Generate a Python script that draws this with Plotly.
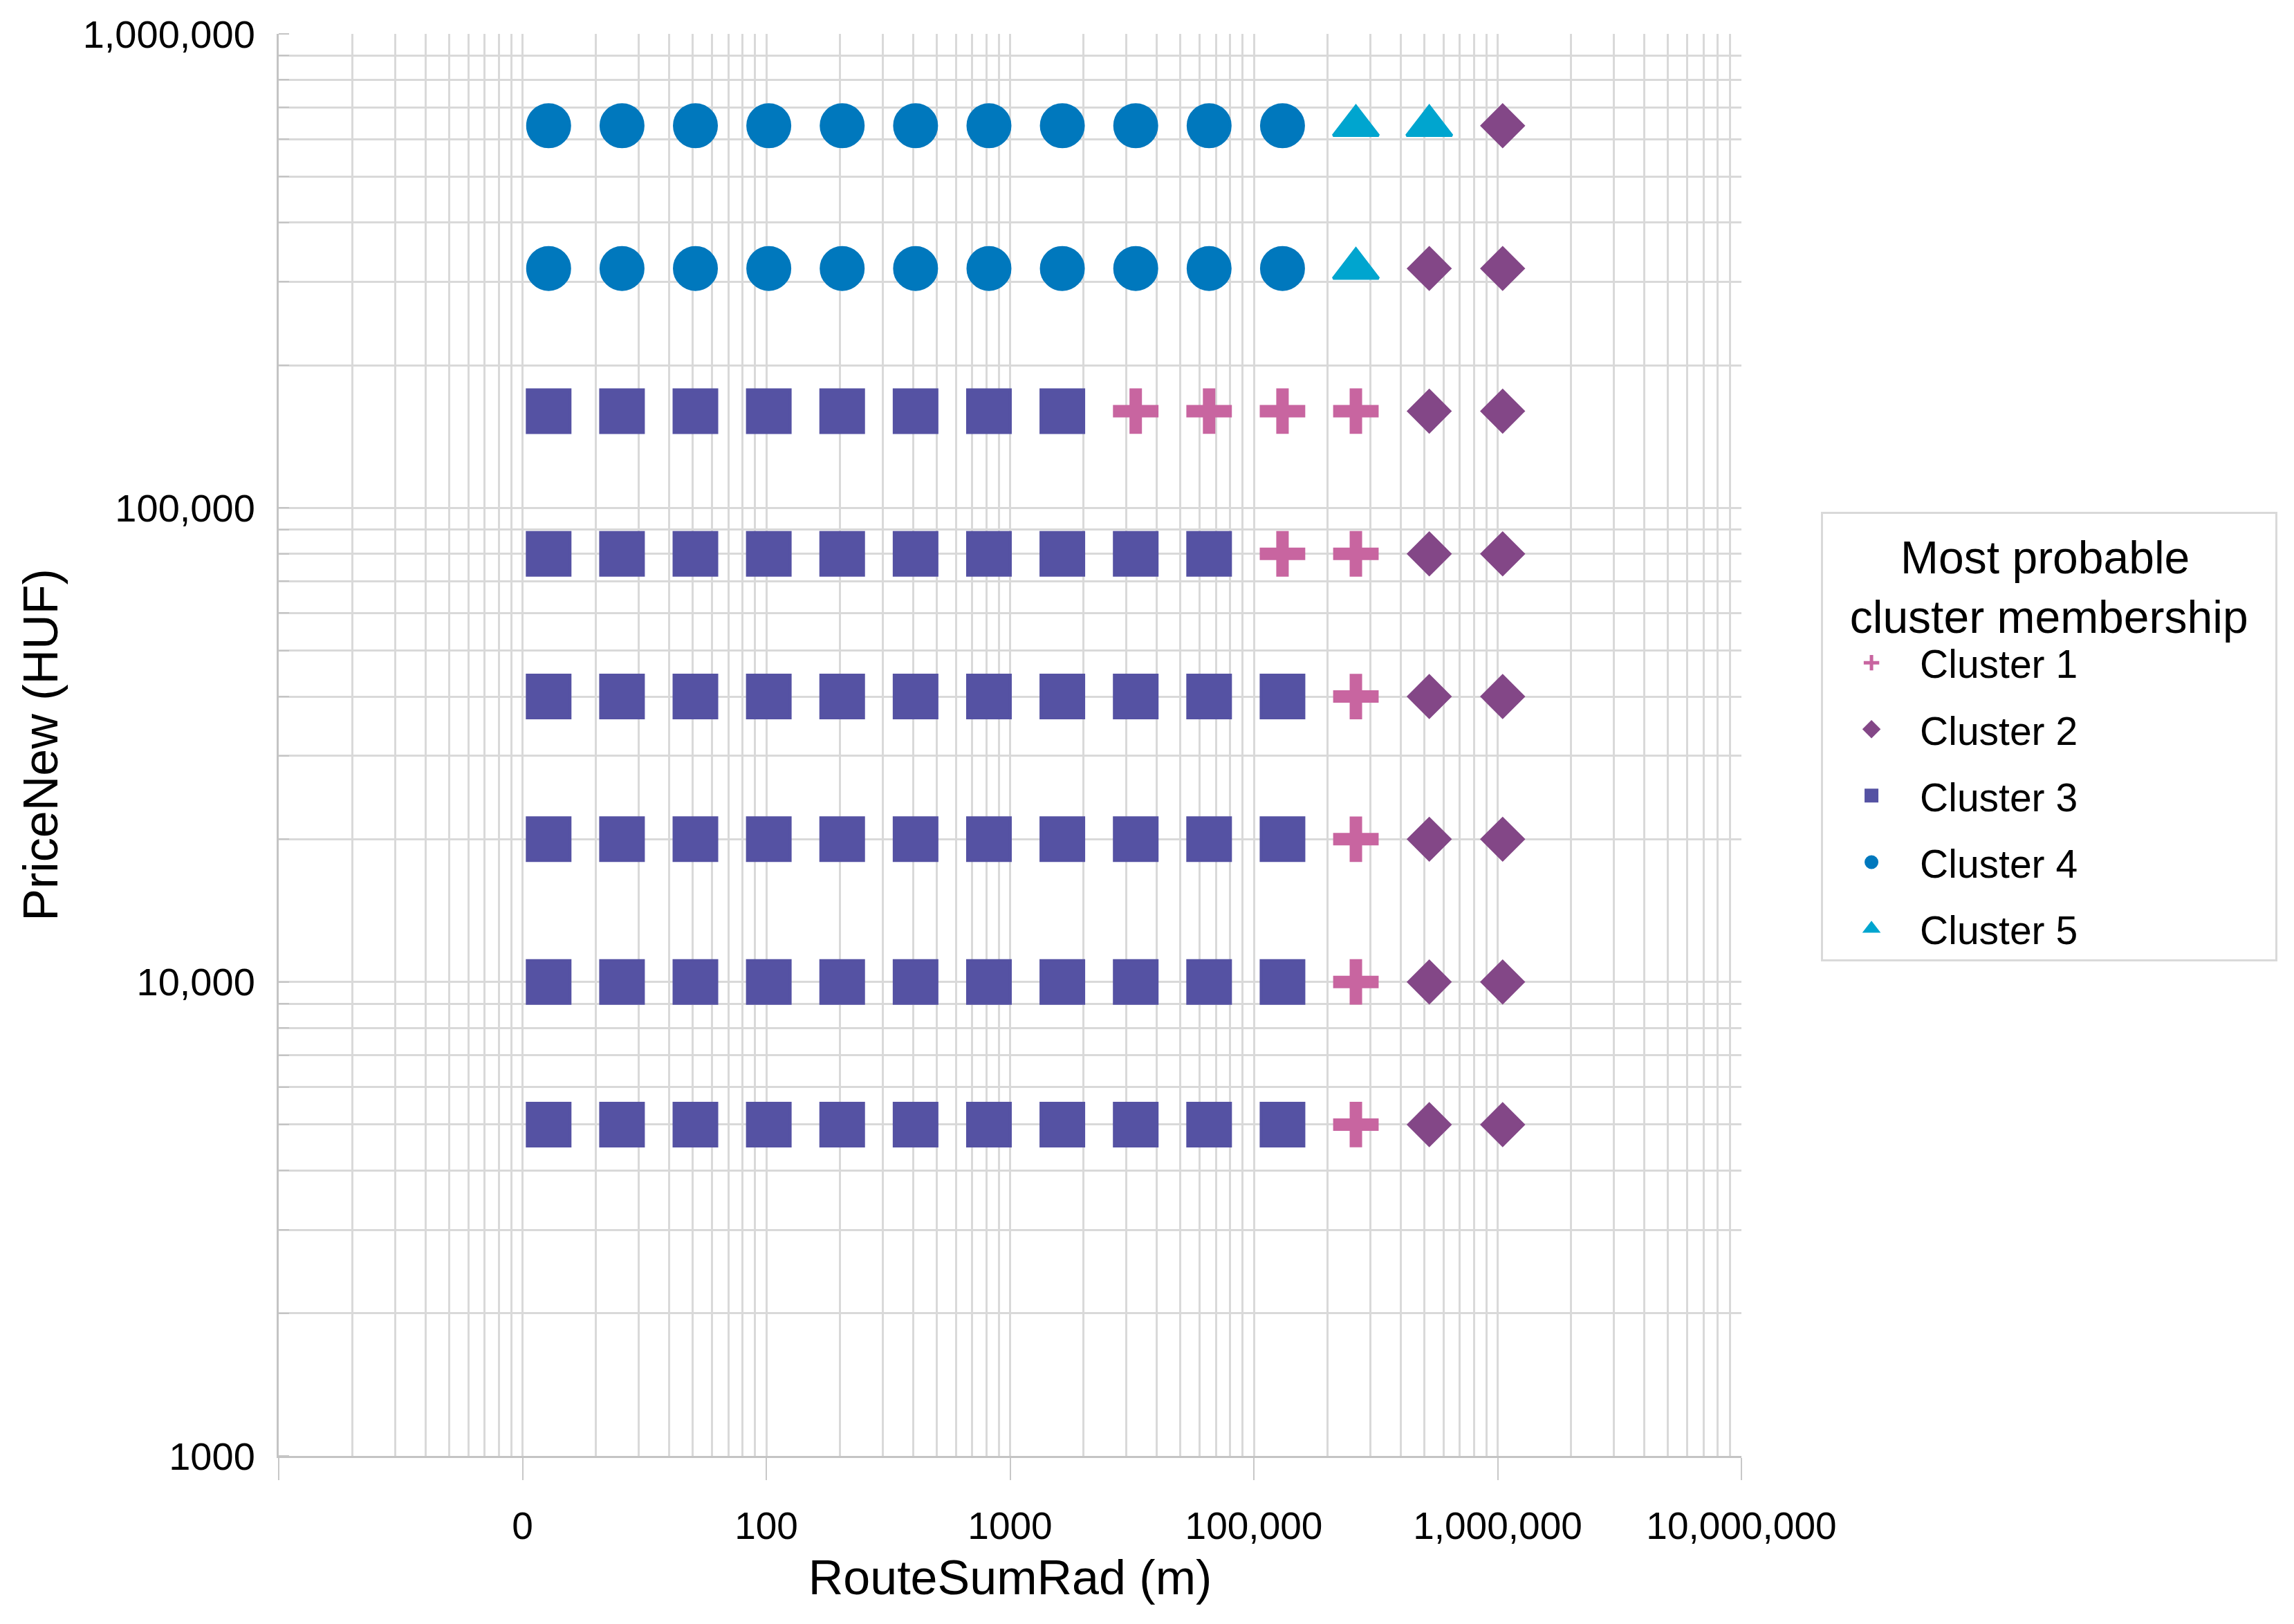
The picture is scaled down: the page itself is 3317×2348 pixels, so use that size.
import plotly.graph_objects as go

# ---- data ----
route_sum_rad = [128, 256, 512, 1024, 2048, 4096, 8192, 16384, 32768, 65536,
                 131072, 262144, 524288, 1048576]
price_new = [5000, 10000, 20000, 40000, 80000, 160000, 320000, 640000]

# cluster id of every (price row, route column) cell, rows bottom -> top
membership_rows = [
    [3, 3, 3, 3, 3, 3, 3, 3, 3, 3, 3, 1, 2, 2],   # 5000
    [3, 3, 3, 3, 3, 3, 3, 3, 3, 3, 3, 1, 2, 2],   # 10000
    [3, 3, 3, 3, 3, 3, 3, 3, 3, 3, 3, 1, 2, 2],   # 20000
    [3, 3, 3, 3, 3, 3, 3, 3, 3, 3, 3, 1, 2, 2],   # 40000
    [3, 3, 3, 3, 3, 3, 3, 3, 3, 3, 1, 1, 2, 2],   # 80000
    [3, 3, 3, 3, 3, 3, 3, 3, 1, 1, 1, 1, 2, 2],   # 160000
    [4, 4, 4, 4, 4, 4, 4, 4, 4, 4, 4, 5, 2, 2],   # 320000
    [4, 4, 4, 4, 4, 4, 4, 4, 4, 4, 4, 5, 5, 2],   # 640000
]

cluster_ids = [1, 2, 3, 4, 5]
cluster_names = ["Cluster 1", "Cluster 2", "Cluster 3", "Cluster 4", "Cluster 5"]
cluster_colors = ["#C865A0", "#834787", "#5552A3", "#0078BD", "#00A5CF"]
cluster_symbols = ["cross-thin", "diamond", "square", "circle", "triangle-up"]
cluster_sizes = [47, 46, 62, 61, 57]
cluster_line_widths = [18, 4, 4, 4, 4]

x_tick_vals = [10, 100, 1000, 10000, 100000, 1000000, 10000000]
x_tick_text = ["", "0", "100", "1000", "100,000", "1,000,000", "10,000,000"]
y_tick_vals = [1000, 10000, 100000, 1000000]
y_tick_text = ["1000", "10,000", "100,000", "1,000,000"]

legend_title = "Most probable<br>cluster membership"

FONT = "Liberation Sans, Arial, Helvetica, sans-serif"
NB = "\u00a0"

fig = go.Figure()
for cid, name, color, sym, size, lw in zip(cluster_ids, cluster_names, cluster_colors,
                                           cluster_symbols, cluster_sizes, cluster_line_widths):
    xs, ys = [], []
    for yi, row in enumerate(membership_rows):
        for xi, c in enumerate(row):
            if c == cid:
                xs.append(route_sum_rad[xi])
                ys.append(price_new[yi])
    fig.add_trace(go.Scatter(
        x=xs, y=ys, mode="markers", name=name, legendgroup=name,
        marker=dict(symbol=sym, size=size, color=color,
                    line=dict(color=color, width=lw)),
    ))

grid_color = "#d9d9d9"
fig.update_xaxes(
    type="log", range=[1, 7],
    tickmode="array", tickvals=x_tick_vals, ticktext=x_tick_text,
    ticks="outside", ticklen=32, tickwidth=2, tickcolor="#c8c8c8",
    showline=True, linecolor="#c4c4c4", linewidth=3,
    showgrid=True, gridcolor=grid_color, gridwidth=3,
    minor=dict(dtick="D1", showgrid=True, gridcolor=grid_color, gridwidth=3, ticks=""),
    zeroline=False,
    tickfont=dict(size=55, color="black", family=FONT),
    ticklabelstandoff=19,
    title=dict(text="RouteSumRad (m)", font=dict(size=70, color="black", family=FONT), standoff=20),
)
fig.update_yaxes(
    type="log", range=[3, 6],
    tickmode="array", tickvals=y_tick_vals, ticktext=y_tick_text,
    ticks="", showline=True, linecolor="#c4c4c4", linewidth=3,
    showgrid=True, gridcolor=grid_color, gridwidth=3,
    minor=dict(dtick="D1", showgrid=True, gridcolor=grid_color, gridwidth=3,
               ticks="inside", ticklen=15, tickwidth=2, tickcolor="#c4c4c4"),
    zeroline=False,
    tickfont=dict(size=56, color="black", family=FONT),
    ticklabelstandoff=20,
    title=dict(text="PriceNew (HUF)", font=dict(size=70, color="black", family=FONT), standoff=14),
)

# centre the two-line legend title and give the box its side padding
t1, t2 = legend_title.split("<br>")
legend_title_text = NB * 6 + t1 + "<br>" + NB * 2 + t2 + NB * 2

fig.update_layout(
    width=3309, height=2340,
    margin=dict(l=395, r=799, t=41, b=243, autoexpand=False),
    paper_bgcolor="white", plot_bgcolor="white",
    font=dict(family=FONT, color="black"),
    showlegend=True,
    legend=dict(
        x=1.0544, y=0.6639, xanchor="left", yanchor="top",
        bordercolor="#d9d9d9", borderwidth=3, bgcolor="white",
        font=dict(size=57, color="black", family=FONT),
        title=dict(text=legend_title_text, side="top",
                   font=dict(size=66, color="black", family=FONT)),
        itemwidth=130, traceorder="grouped", tracegroupgap=19,
        itemsizing="trace",
    ),
)

fig.write_html("out.html")
